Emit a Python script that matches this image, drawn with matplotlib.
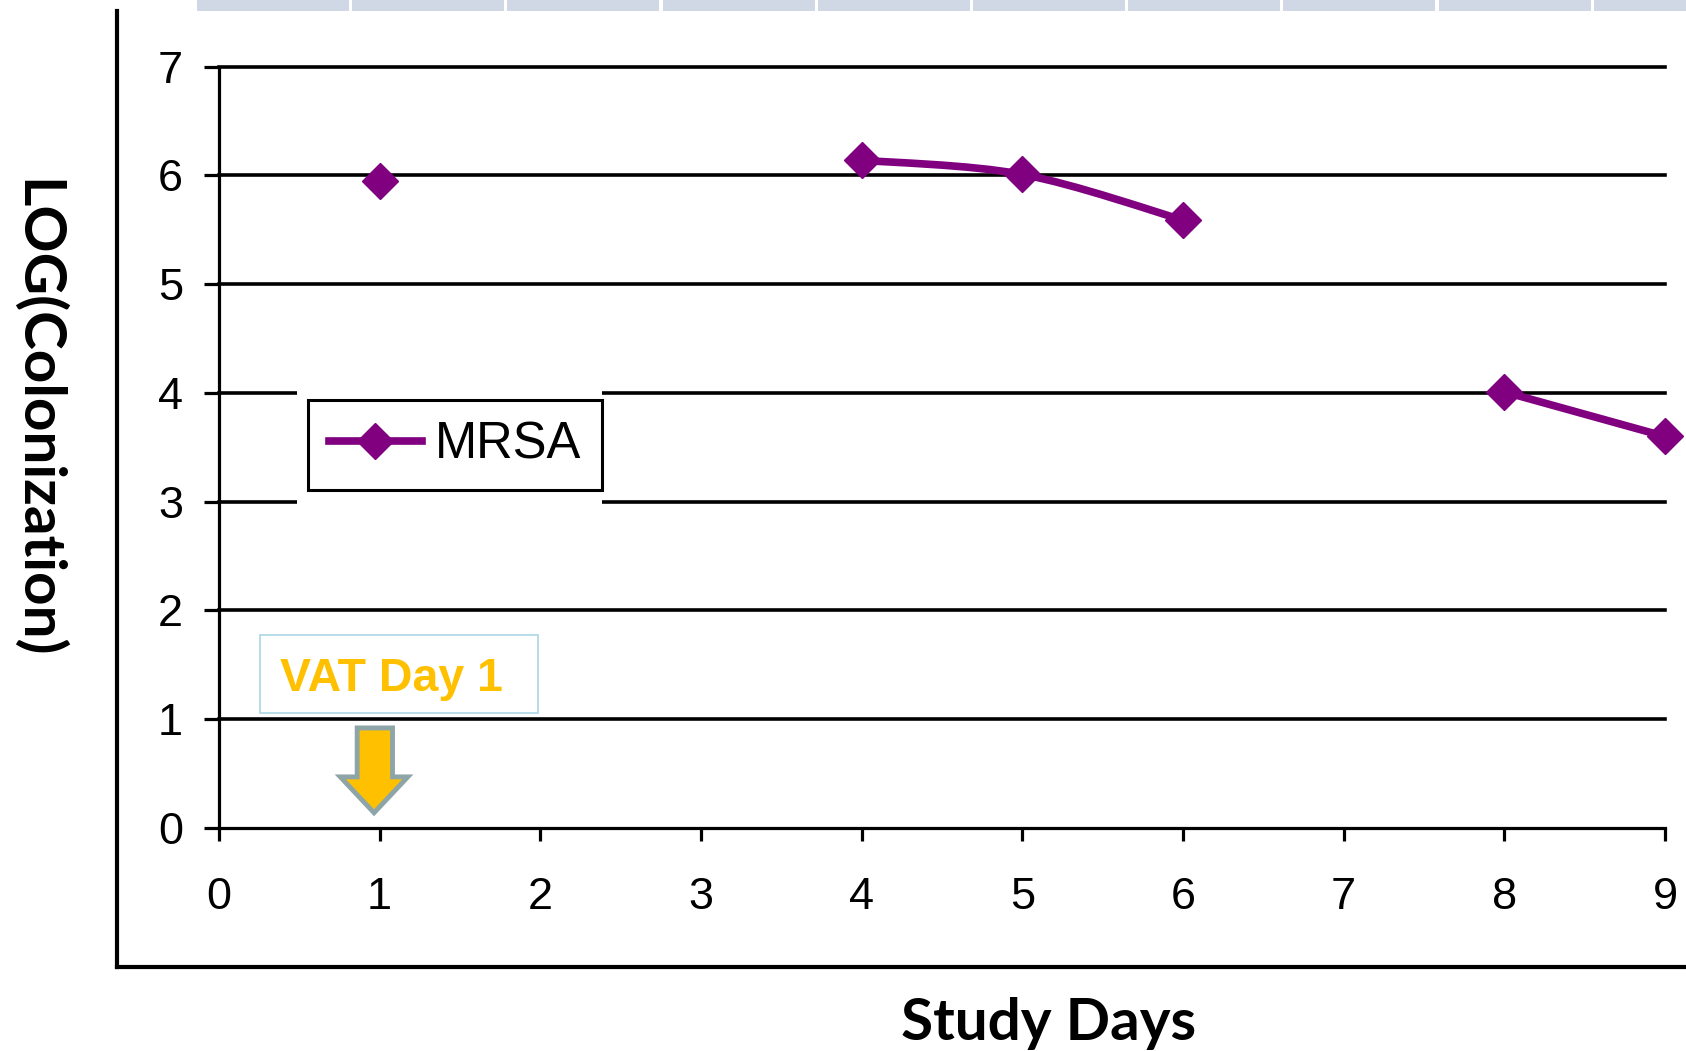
import numpy as np
import matplotlib
matplotlib.use("Agg")
import matplotlib.pyplot as plt
from matplotlib.path import Path
from matplotlib.patches import PathPatch, Rectangle, Polygon
from matplotlib.lines import Line2D

# MRSA colonisation per study day (nan = no sample that day)
days = [1, 2, 3, 4, 5, 6, 7, 8, 9]
mrsa_log = [5.95, np.nan, np.nan, 6.14, 6.01, 5.59, np.nan, 4.01, 3.60]
series_name = "MRSA"
x_ticks = [0, 1, 2, 3, 4, 5, 6, 7, 8, 9]
y_ticks = [0, 1, 2, 3, 4, 5, 6, 7]
vat_label = "VAT Day 1"
vat_day = 1

W, H = 1686, 1051
purple = "#800080"
amber = "#FFC000"


def fx(px):
    return px / W


def fy(py):
    return 1 - py / H


fig = plt.figure(figsize=(W / 100, H / 100), dpi=100)
fig.patch.set_facecolor("white")

# slide decoration: pale tab strip along the top edge
for left in np.arange(197, W, 155.2):
    fig.add_artist(Rectangle((fx(left), fy(11)), fx(152), fy(0) - fy(11),
                             transform=fig.transFigure, facecolor="#D0D8E6",
                             edgecolor="none"))

# outer L-shaped frame around the chart
fig.add_artist(Line2D([fx(117), fx(117)], [fy(11), fy(967)], color="black",
                      lw=3, transform=fig.transFigure))
fig.add_artist(Line2D([fx(117), fx(W)], [fy(967), fy(967)], color="black",
                      lw=3, transform=fig.transFigure))

ax = fig.add_axes([fx(219), fy(828), fx(1665 - 219), fy(66.7) - fy(828)])
ax.set_xlim(0, 9)
ax.set_ylim(0, 7)

for s in ["top", "right"]:
    ax.spines[s].set_visible(False)
for s in ["left", "bottom"]:
    ax.spines[s].set_linewidth(2.3)
    ax.spines[s].set_zorder(1)

for y in y_ticks[1:]:
    ax.axhline(y, color="black", lw=2.6, zorder=1, clip_on=False)

ax.set_xticks(x_ticks)
ax.set_yticks(y_ticks)
ax.tick_params(axis="y", direction="out", length=11, width=2.3, pad=15,
               labelsize=32.5)
ax.tick_params(axis="x", direction="out", length=9, width=2.3, pad=26,
               labelsize=32.5)
for lab in ax.get_xticklabels() + ax.get_yticklabels():
    lab.set_fontfamily("Liberation Sans")

# white area behind the legend
ax.add_patch(Rectangle((0.485, 2.92), 1.9, 1.15, facecolor="white",
                       edgecolor="none", zorder=2))

# smoothed line through each run of consecutive days
xs = np.array(days, dtype=float)
ys = np.array(mrsa_log, dtype=float)
runs, cur = [], []
for xv, yv in zip(xs, ys):
    if np.isnan(yv):
        if cur:
            runs.append(cur)
        cur = []
    else:
        cur.append((xv, yv))
if cur:
    runs.append(cur)

for run in runs:
    if len(run) < 2:
        continue
    p = np.array(run)
    n = len(p)
    verts, codes = [p[0]], [Path.MOVETO]
    for i in range(n - 1):
        prev = p[max(i - 1, 0)]
        nxt = p[min(i + 2, n - 1)]
        c1 = p[i] + (p[i + 1] - prev) / 6
        c2 = p[i + 1] - (nxt - p[i]) / 6
        verts += [c1, c2, p[i + 1]]
        codes += [Path.CURVE4] * 3
    ax.add_patch(PathPatch(Path(verts, codes), fill=False, edgecolor=purple,
                           lw=5.5, zorder=3, clip_on=False,
                           capstyle="round", joinstyle="round"))

ax.plot(xs, ys, linestyle="none", marker="D", ms=18, color=purple,
        mec=purple, zorder=4, clip_on=False)

handle = Line2D([], [], color=purple, lw=5.5, marker="D", ms=18)
leg = ax.legend([handle], [series_name], loc="center",
                bbox_to_anchor=(fx(455), fy(445)),
                bbox_transform=fig.transFigure, frameon=True, fancybox=False,
                edgecolor="black", facecolor="white", framealpha=1,
                handlelength=1.85, handletextpad=0.25, borderpad=0.4,
                prop={"family": "Liberation Sans", "size": 36.5})
leg.get_frame().set_linewidth(2.2)
leg.set_zorder(5)

# VAT start annotation: label box and block arrow
fig.add_artist(Rectangle((fx(260), fy(713)), fx(278), fy(635) - fy(713),
                         transform=fig.transFigure, facecolor="white",
                         edgecolor="#B7DDE8", lw=1.4))
fig.text(fx(391), fy(679), vat_label, ha="center", va="center",
         family="Liberation Sans", weight="bold", size=33.5, color=amber)

tip = vat_day - 0.035
arrow = Polygon([(tip - 0.105, 0.92), (tip + 0.115, 0.92), (tip + 0.115, 0.47),
                 (tip + 0.21, 0.47), (tip, 0.14), (tip - 0.21, 0.47),
                 (tip - 0.105, 0.47)],
                closed=True, facecolor=amber, edgecolor="#8EA5A8", lw=3.5,
                zorder=5, joinstyle="miter")
ax.add_patch(arrow)

fig.text(fx(36), fy(419), "LOG(Colonization)", rotation=-90, ha="center",
         va="center", family="Lato", weight="bold", size=42)
fig.text(fx(1049), fy(1040), "Study Days", ha="center", va="baseline",
         family="Lato", weight="bold", size=42)

fig.savefig("out.png", dpi=100, facecolor="white")
